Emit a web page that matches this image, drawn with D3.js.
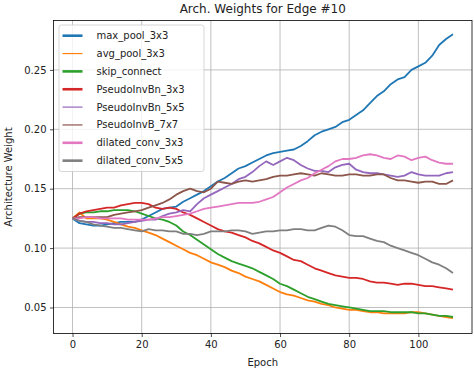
<!DOCTYPE html>
<html>
<head>
<meta charset="utf-8">
<script src="https://cdn.jsdelivr.net/npm/d3@7"></script>
<style>
  body { margin: 0; background: #fff; }
  svg { display: block; font-family: "DejaVu Sans", sans-serif; }
</style>
</head>
<body>
<div id="chart"></div>
<script>
// 1: DATA (every 2 epochs)
const epochs = [0, 2, 4, 6, 8, 10, 12, 14, 16, 18, 20, 22, 24, 26, 28, 30, 32, 34, 36, 38,
    40, 42, 44, 46, 48, 50, 52, 54, 56, 58, 60, 62, 64, 66, 68, 70, 72, 74, 76, 78,
    80, 82, 84, 86, 88, 90, 92, 94, 96, 98, 100, 102, 104, 106, 108, 110];

const opNames = ["max_pool_3x3", "avg_pool_3x3", "skip_connect", "PseudoInvBn_3x3",
    "PseudoInvBn_5x5", "PseudoInvB_7x7", "dilated_conv_3x3", "dilated_conv_5x5"];

const maxPool = [0.125, 0.121, 0.120, 0.119, 0.119, 0.120, 0.121, 0.122, 0.122, 0.122,
    0.124, 0.127, 0.130, 0.133, 0.134, 0.135, 0.139, 0.142, 0.145, 0.148,
    0.152, 0.156, 0.159, 0.163, 0.167, 0.169, 0.172, 0.175, 0.178, 0.180,
    0.181, 0.182, 0.183, 0.186, 0.190, 0.195, 0.198, 0.200, 0.202, 0.206,
    0.208, 0.212, 0.216, 0.222, 0.228, 0.232, 0.238, 0.242, 0.244, 0.250,
    0.253, 0.256, 0.262, 0.271, 0.276, 0.280];
const avgPool = [0.125, 0.130, 0.125, 0.125, 0.125, 0.124, 0.122, 0.120, 0.118, 0.117,
    0.115, 0.113, 0.111, 0.108, 0.105, 0.102, 0.099, 0.096, 0.094, 0.091,
    0.088, 0.086, 0.084, 0.081, 0.079, 0.076, 0.074, 0.072, 0.069, 0.066,
    0.063, 0.061, 0.060, 0.058, 0.056, 0.055, 0.053, 0.052, 0.050, 0.049,
    0.048, 0.048, 0.047, 0.046, 0.046, 0.045, 0.045, 0.045, 0.045, 0.046,
    0.046, 0.045, 0.044, 0.043, 0.042, 0.041];
const skipConnect = [0.125, 0.129, 0.130, 0.130, 0.131, 0.131, 0.132, 0.132, 0.132, 0.131,
    0.129, 0.127, 0.125, 0.124, 0.122, 0.119, 0.114, 0.111, 0.107, 0.103,
    0.099, 0.095, 0.092, 0.089, 0.087, 0.085, 0.083, 0.080, 0.077, 0.074,
    0.070, 0.068, 0.065, 0.062, 0.059, 0.057, 0.055, 0.053, 0.052, 0.051,
    0.050, 0.049, 0.048, 0.047, 0.047, 0.047, 0.046, 0.046, 0.046, 0.046,
    0.045, 0.045, 0.044, 0.043, 0.043, 0.042];
const pinvBn3 = [0.125, 0.129, 0.131, 0.132, 0.133, 0.134, 0.134, 0.136, 0.137, 0.138,
    0.138, 0.137, 0.134, 0.133, 0.134, 0.133, 0.130, 0.128, 0.125, 0.122,
    0.119, 0.116, 0.114, 0.113, 0.111, 0.109, 0.106, 0.104, 0.101, 0.098,
    0.096, 0.093, 0.090, 0.089, 0.086, 0.083, 0.081, 0.079, 0.077, 0.076,
    0.075, 0.075, 0.074, 0.072, 0.071, 0.071, 0.070, 0.069, 0.070, 0.070,
    0.069, 0.068, 0.068, 0.067, 0.066, 0.065];
const pinvBn5 = [0.125, 0.123, 0.122, 0.122, 0.121, 0.121, 0.120, 0.120, 0.121, 0.122,
    0.123, 0.124, 0.124, 0.127, 0.129, 0.130, 0.132, 0.131, 0.137, 0.142,
    0.145, 0.148, 0.151, 0.154, 0.158, 0.160, 0.164, 0.169, 0.173, 0.170,
    0.173, 0.176, 0.174, 0.170, 0.167, 0.165, 0.165, 0.164, 0.168, 0.170,
    0.171, 0.166, 0.164, 0.163, 0.163, 0.162, 0.161, 0.160, 0.161, 0.164,
    0.162, 0.161, 0.161, 0.161, 0.163, 0.164];
const pinvB7 = [0.125, 0.126, 0.126, 0.126, 0.126, 0.126, 0.128, 0.129, 0.130, 0.131,
    0.132, 0.134, 0.136, 0.138, 0.141, 0.145, 0.148, 0.150, 0.148, 0.147,
    0.150, 0.156, 0.155, 0.154, 0.156, 0.157, 0.156, 0.157, 0.158, 0.160,
    0.161, 0.161, 0.162, 0.163, 0.162, 0.161, 0.163, 0.162, 0.161, 0.161,
    0.162, 0.162, 0.161, 0.161, 0.162, 0.162, 0.159, 0.157, 0.157, 0.156,
    0.155, 0.156, 0.156, 0.154, 0.154, 0.157];
const dilConv3 = [0.125, 0.125, 0.126, 0.126, 0.125, 0.125, 0.125, 0.125, 0.124, 0.124,
    0.124, 0.124, 0.125, 0.126, 0.126, 0.127, 0.128, 0.129, 0.131, 0.133,
    0.134, 0.135, 0.136, 0.137, 0.138, 0.138, 0.138, 0.139, 0.141, 0.143,
    0.147, 0.151, 0.154, 0.157, 0.159, 0.163, 0.166, 0.169, 0.173, 0.175,
    0.175, 0.176, 0.178, 0.179, 0.178, 0.176, 0.175, 0.178, 0.177, 0.174,
    0.176, 0.177, 0.174, 0.172, 0.171, 0.171];
const dilConv5 = [0.125, 0.123, 0.122, 0.120, 0.119, 0.118, 0.117, 0.117, 0.116, 0.115,
    0.114, 0.116, 0.115, 0.115, 0.114, 0.114, 0.112, 0.112, 0.111, 0.112,
    0.114, 0.114, 0.114, 0.115, 0.115, 0.114, 0.112, 0.113, 0.114, 0.114,
    0.115, 0.115, 0.116, 0.116, 0.115, 0.115, 0.117, 0.119, 0.118, 0.115,
    0.111, 0.110, 0.110, 0.108, 0.106, 0.105, 0.102, 0.100, 0.098, 0.096,
    0.094, 0.091, 0.088, 0.086, 0.083, 0.079];

const xTicks = [0, 20, 40, 60, 80, 100];
const yTicks = [0.05, 0.10, 0.15, 0.20, 0.25];

const seriesValues = [maxPool, avgPool, skipConnect, pinvBn3, pinvBn5, pinvB7, dilConv3, dilConv5];
const colors = ["#1f77b4", "#ff7f0e", "#2ca02c", "#d62728", "#9467bd", "#8c564b", "#e377c2", "#7f7f7f"];
const legendWidths = [2.6, 1.2, 2.6, 2.6, 1.2, 1.2, 2.6, 2.6];

// 2: SVG SETUP
const W = 474, H = 370;
const margin = { top: 20.5, right: 2, bottom: 36.5, left: 53.5 };
const width = W - margin.left - margin.right;
const height = H - margin.top - margin.bottom;

const svg = d3.select("#chart").append("svg")
    .attr("width", W)
    .attr("height", H);

const g = svg.append("g")
    .attr("transform", `translate(${margin.left},${margin.top})`);

// 3: SCALES (matplotlib style 5% margins)
const x = d3.scaleLinear().domain([-5.5, 115.5]).range([0, width]);
const y = d3.scaleLinear().domain([0.0281, 0.2916]).range([height, 0]);

// grid
g.append("g").selectAll("line")
    .data(xTicks).enter().append("line")
    .attr("x1", d => x(d)).attr("x2", d => x(d))
    .attr("y1", 0).attr("y2", height)
    .attr("stroke", "#b0b0b0").attr("stroke-width", 0.8);
g.append("g").selectAll("line")
    .data(yTicks).enter().append("line")
    .attr("x1", 0).attr("x2", width)
    .attr("y1", d => y(d)).attr("y2", d => y(d))
    .attr("stroke", "#b0b0b0").attr("stroke-width", 0.8);

// 4: LINES
const data = opNames.map((name, i) => ({
    name,
    color: colors[i],
    values: epochs.map((e, j) => ({ epoch: e, w: seriesValues[i][j] }))
}));

const line = d3.line()
    .x(d => x(d.epoch))
    .y(d => y(d.w));

g.selectAll(".line")
    .data(data)
    .enter().append("path")
    .attr("class", "line")
    .attr("d", d => line(d.values))
    .style("stroke", d => d.color)
    .style("fill", "none")
    .style("stroke-width", 1.8)
    .style("stroke-linejoin", "round");

// 5: AXES
const xAxis = g.append("g")
    .attr("transform", `translate(0,${height})`)
    .call(d3.axisBottom(x).tickValues(xTicks).tickSize(3.5).tickPadding(3.5).tickFormat(d3.format("d")));
const yAxis = g.append("g")
    .call(d3.axisLeft(y).tickValues(yTicks).tickSize(3.5).tickPadding(3.5).tickFormat(d3.format(".2f")));

[xAxis, yAxis].forEach(a => {
    a.select(".domain").remove();
    a.selectAll("line").attr("stroke", "#222").attr("stroke-width", 0.8);
    a.selectAll("text").attr("fill", "#222").style("font-size", "10px")
        .style("font-family", "DejaVu Sans, sans-serif");
});

// frame
g.append("rect")
    .attr("width", width).attr("height", height)
    .attr("fill", "none").attr("stroke", "#000").attr("stroke-width", 0.8);

// 6: LABELS
svg.append("text")
    .attr("x", margin.left + width / 2)
    .attr("y", 13)
    .attr("text-anchor", "middle")
    .style("font-size", "12px")
    .attr("fill", "#222")
    .text("Arch. Weights for Edge #10");

svg.append("text")
    .attr("x", margin.left + width / 2)
    .attr("y", 366)
    .attr("text-anchor", "middle")
    .style("font-size", "10px")
    .attr("fill", "#222")
    .text("Epoch");

svg.append("text")
    .attr("transform", `translate(12,${margin.top + height / 2}) rotate(-90)`)
    .attr("text-anchor", "middle")
    .style("font-size", "10px")
    .attr("fill", "#222")
    .text("Architecture Weight");

// legend
const legend = svg.append("g").attr("transform", "translate(59,25)");
legend.append("rect")
    .attr("width", 145).attr("height", 146.5)
    .attr("rx", 2.5)
    .attr("fill", "#fff").attr("fill-opacity", 0.8)
    .attr("stroke", "#cccccc").attr("stroke-width", 0.8);

const items = legend.selectAll(".item")
    .data(data)
    .enter().append("g")
    .attr("class", "item")
    .attr("transform", (d, i) => `translate(0,${10.7 + i * 17.85})`);
items.append("line")
    .attr("x1", 3.5).attr("x2", 23.5)
    .attr("stroke", d => d.color)
    .attr("stroke-width", (d, i) => legendWidths[i]);
items.append("text")
    .attr("x", 37.5)
    .attr("dy", "0.35em")
    .style("font-size", "10px")
    .attr("fill", "#222")
    .text(d => d.name);
</script>
</body>
</html>
